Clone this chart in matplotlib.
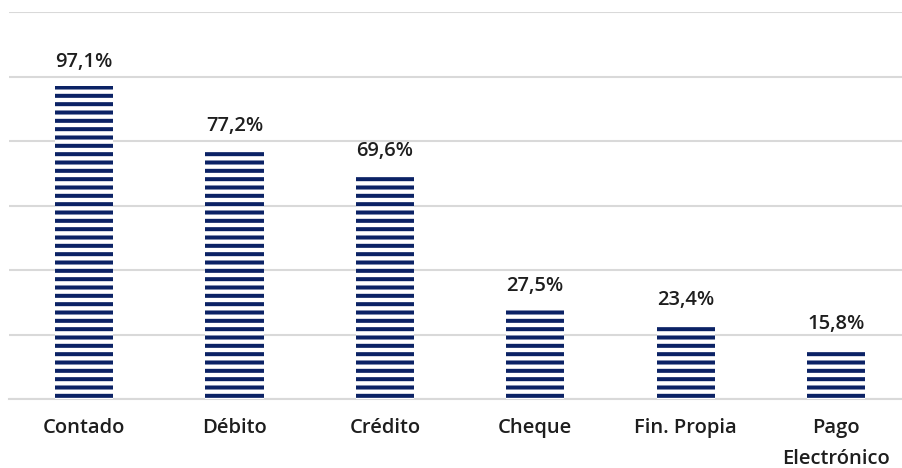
import matplotlib.pyplot as plt

# data
categorias = ["Contado", "Débito", "Crédito", "Cheque", "Fin. Propia", "Pago\nElectrónico"]
valores = [97.1, 77.2, 69.6, 27.5, 23.4, 15.8]
etiquetas = ["97,1%", "77,2%", "69,6%", "27,5%", "23,4%", "15,8%"]

navy = "#0B2265"
gris = "#D9D9D9"
texto = "#1E1E1E"

plt.rcParams["font.family"] = ["Open Sans", "DejaVu Sans"]
plt.rcParams["hatch.linewidth"] = 2.9

fig = plt.figure(figsize=(9.02, 4.68), dpi=100)
ax = fig.add_axes([9 / 902, 1 - 399 / 468, 893 / 902, (399 - 12) / 468])

x = range(len(categorias))
ax.bar(x, valores, width=0.386, color="white", edgecolor=navy,
       linewidth=0, hatch="--", zorder=3)

for xi, v, lab in zip(x, valores, etiquetas):
    ax.annotate(lab, (xi, v), xytext=(0, 10), textcoords="offset points",
                ha="center", va="bottom", fontsize=14.5, fontweight="semibold",
                color=texto)

ax.set_ylim(0, 120)
ax.set_yticks(range(0, 121, 20))
ax.set_xlim(-0.5, 5.44)
ax.set_xticks(list(x))
ax.set_xticklabels(categorias, fontsize=14.5, fontweight="semibold", color=texto,
                   linespacing=1.7, va="top")
ax.tick_params(axis="x", length=0, pad=14)
ax.tick_params(axis="y", length=0, labelleft=False)
ax.grid(axis="y", color=gris, linewidth=1.5, zorder=0)
for s in ["top", "right", "left"]:
    ax.spines[s].set_visible(False)
ax.spines["bottom"].set_color(gris)
ax.spines["bottom"].set_linewidth(1.5)

fig.savefig("out.png", dpi=100)
